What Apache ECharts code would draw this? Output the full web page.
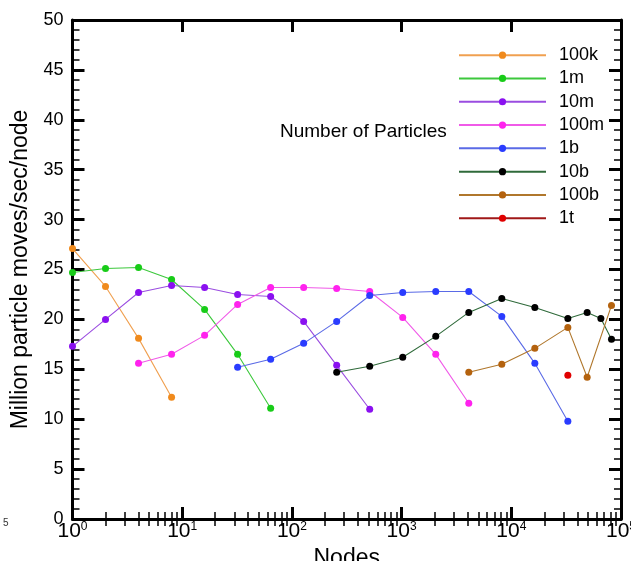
<!DOCTYPE html>
<html>
<head>
<meta charset="utf-8">
<script src="https://cdn.jsdelivr.net/npm/echarts@6/dist/echarts.min.js"></script>
<style>html,body{margin:0;padding:0;background:#fff}#c{width:631px;height:561px}</style>
</head>
<body>
<div id="c"></div>
<script>
// ---- data ----
var seriesNames = ['100k', '1m', '10m', '100m', '1b', '10b', '100b', '1t'];
var nodes100k = [1, 2, 4, 8];
var vals100k  = [27.1, 23.3, 18.1, 12.2];
var nodes1m = [1, 2, 4, 8, 16, 32, 64];
var vals1m  = [24.7, 25.1, 25.2, 24.0, 21.0, 16.5, 11.1];
var nodes10m = [1, 2, 4, 8, 16, 32, 64, 128, 256, 512];
var vals10m  = [17.3, 20.0, 22.7, 23.4, 23.2, 22.5, 22.3, 19.8, 15.4, 11.0];
var nodes100m = [4, 8, 16, 32, 64, 128, 256, 512, 1024, 2048, 4096];
var vals100m  = [15.6, 16.5, 18.4, 21.5, 23.2, 23.2, 23.1, 22.8, 20.2, 16.5, 11.6];
var nodes1b = [32, 64, 128, 256, 512, 1024, 2048, 4096, 8192, 16384, 32768];
var vals1b  = [15.2, 16.0, 17.6, 19.8, 22.4, 22.7, 22.8, 22.8, 20.3, 15.6, 9.8];
var nodes10b = [256, 512, 1024, 2048, 4096, 8192, 16384, 32768, 49152, 65536, 81920];
var vals10b  = [14.7, 15.3, 16.2, 18.3, 20.7, 22.1, 21.2, 20.1, 20.7, 20.1, 18.0];
var nodes100b = [4096, 8192, 16384, 32768, 49152, 81920];
var vals100b  = [14.7, 15.5, 17.1, 19.2, 14.2, 21.4];
var nodes1t = [32768];
var vals1t  = [14.4];
var xMinorTicks = [2,3,4,5,6,7,8,9,20,30,40,50,60,70,80,90,200,300,400,500,600,700,800,900,
  2000,3000,4000,5000,6000,7000,8000,9000,20000,30000,40000,50000,60000,70000,80000,90000];
var yTickStep = 5;

var FONT = "'Liberation Sans', Arial, Helvetica, sans-serif";
var lineColors = ['#f0a050', '#3cc83c', '#9a4ce0', '#f05ae8', '#5a6ae6', '#2f6a3a', '#b0772c', '#a01818'];
var markColors = ['#f08a1c', '#18cc18', '#8a10f0', '#ff22ee', '#2a3cff', '#000000', '#b4620e', '#e00000'];
var allNodes = [nodes100k, nodes1m, nodes10m, nodes100m, nodes1b, nodes10b, nodes100b, nodes1t];
var allVals = [vals100k, vals1m, vals10m, vals100m, vals1b, vals10b, vals100b, vals1t];

function pairs(xs, ys) { return xs.map(function (x, i) { return [x, ys[i]]; }); }

var series = seriesNames.map(function (name, i) {
  return {
    name: name, type: 'line', xAxisIndex: 0, yAxisIndex: 0,
    data: pairs(allNodes[i], allVals[i]),
    symbol: 'circle', symbolSize: 7,
    lineStyle: { width: 1.1, color: lineColors[i] },
    itemStyle: { color: markColors[i] },
    emphasis: { disabled: true },
    animation: false
  };
});

function xMajor(pos) {
  return {
    type: 'log', logBase: 10, min: 1, max: 100000, position: pos,
    axisLine: { show: true, onZero: false, lineStyle: { color: '#000', width: 3 } },
    axisTick: { show: true, inside: true, length: 12, lineStyle: { color: '#000', width: 3 } },
    axisLabel: pos === 'bottom' ? {
      show: true, margin: 2, hideOverlap: false,
      formatter: function (v) { return '{b|10}{s|' + Math.round(Math.log(v) / Math.LN10) + '}'; },
      rich: {
        b: { fontSize: 21, fontFamily: FONT, color: '#000', lineHeight: 21 },
        s: { fontSize: 12, fontFamily: FONT, color: '#000', verticalAlign: 'top', lineHeight: 12 }
      }
    } : { show: false },
    splitLine: { show: false },
    name: pos === 'bottom' ? 'Nodes' : '',
    nameLocation: 'middle', nameGap: 26,
    nameTextStyle: { fontSize: 23, fontFamily: FONT, color: '#000' }
  };
}
// minor decade ticks: a plain value axis over log10(nodes), used only for tick marks
function xMinor(pos) {
  return {
    type: 'value', min: 0, max: 5, position: pos,
    axisLine: { show: false },
    axisTick: { show: true, inside: true, length: 7,
      customValues: xMinorTicks.map(function (t) { return Math.log(t) / Math.LN10; }),
      lineStyle: { color: '#000', width: 1.5 } },
    axisLabel: { show: false },
    splitLine: { show: false }
  };
}
function yAx(pos) {
  return {
    type: 'value', min: 0, max: 50, interval: yTickStep, position: pos,
    axisLine: { show: true, onZero: false, lineStyle: { color: '#000', width: 3 } },
    axisTick: { show: true, inside: true, length: 12, lineStyle: { color: '#000', width: 3 } },
    minorTick: { show: true, splitNumber: 5, length: 7, lineStyle: { color: '#000', width: 1.5 } },
    axisLabel: pos === 'left' ? { show: true, margin: 9, fontSize: 18, fontFamily: FONT, color: '#000' } : { show: false },
    splitLine: { show: false },
    name: pos === 'left' ? 'Million particle moves/sec/node' : '',
    nameLocation: 'middle', nameGap: 31,
    nameTextStyle: { fontSize: 23, fontFamily: FONT, color: '#000' }
  };
}

var chart = echarts.init(document.getElementById('c'), null, { renderer: 'canvas' });
chart.setOption({
  animation: false,
  backgroundColor: '#fff',
  grid: { left: 72.5, right: 10, top: 20, bottom: 42, containLabel: false, outerBoundsMode: 'none' },
  xAxis: [xMajor('bottom'), xMajor('top'), xMinor('bottom'), xMinor('top')],
  yAxis: [yAx('left'), yAx('right')],
  legend: {
    data: seriesNames, orient: 'vertical', left: 453, top: 41,
    itemWidth: 87, itemHeight: 9, itemGap: 5,
    textStyle: { fontSize: 18, fontFamily: FONT, color: '#000', lineHeight: 18.3, padding: [0, 0, 0, 8] },
    selectedMode: false
  },
  graphic: [
    { type: 'text', left: 280, top: 122, style: { text: 'Number of Particles', fontSize: 19, fontFamily: FONT, fill: '#000' } },
    { type: 'text', left: 3, top: 518, style: { text: '5', fontSize: 10, fontFamily: FONT, fill: '#333' } }
  ],
  series: series
});
</script>
</body>
</html>
